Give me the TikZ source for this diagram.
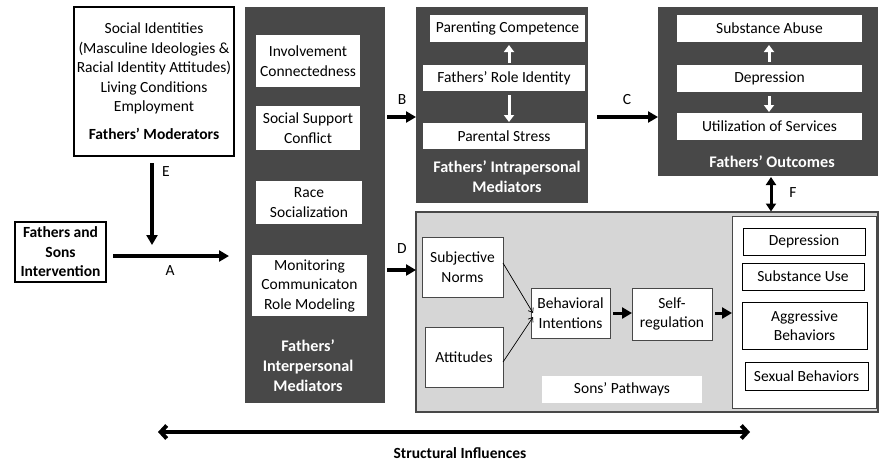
\documentclass[tikz,border=0pt]{standalone}
\usepackage{fontspec}
\setmainfont{Carlito}
\usetikzlibrary{arrows.meta,calc}
\definecolor{darkbox}{HTML}{484848}
\definecolor{sonsgray}{HTML}{D6D6D6}
\begin{document}
\begin{tikzpicture}[x=1pt,y=-1pt,
  every node/.style={inner sep=0pt, outer sep=0pt, align=center, font=\fontsize{15.5}{19.5}\selectfont},
  wbox/.style={draw=black, line width=1.2pt, fill=white},
  wnb/.style={fill=white},
  dark/.style={fill=darkbox},
  gbox/.style={draw=darkbox, line width=1.2pt, fill=sonsgray},
  dlabel/.style={text=white, font=\fontsize{16.2}{20}\selectfont\bfseries},
  arr/.style={line width=3.5pt, -{Triangle[length=10pt,width=11pt]}},
  darr/.style={line width=3pt, {Triangle[length=8pt,width=10pt]}-{Triangle[length=8pt,width=10pt]}},
  warr/.style={white, line width=3pt, -{Triangle[length=7pt,width=10pt]}},
  thin/.style={line width=0.7pt, -{Straight Barb[length=4pt,width=6pt]}},
  sarr/.style={line width=4pt, {Straight Barb[length=6pt,width=13pt]}-{Straight Barb[length=6pt,width=13pt]}},
  lab/.style={font=\fontsize{15.5}{19.5}\selectfont}
]
\useasboundingbox (0,0) rectangle (880,461);
\fill[white] (0,0) rectangle (880,461);

% Moderators
\node[wbox, minimum width=160, minimum height=149] (mod) at (154,81.5)
  {Social Identities\\(Masculine Ideologies \&\\Racial Identity Attitudes)\\Living Conditions\\Employment\\[8.5pt]\textbf{Fathers’ Moderators}};

% Intervention
\node[wbox, minimum width=91, minimum height=60, font=\fontsize{15.5}{19.5}\selectfont\bfseries] (fs) at (60.5,252)
  {Fathers and\\Sons\\Intervention};

% Interpersonal mediators
\node[dark, minimum width=140, minimum height=396] (inter) at (315,205) {};
\node[wnb, minimum width=104, minimum height=52] (inv) at (308,61) {Involvement\\Connectedness};
\node[wnb, minimum width=104, minimum height=44] (ssc) at (308,128) {Social Support\\Conflict};
\node[wnb, minimum width=106, minimum height=43] (race) at (309,202.5) {Race\\Socialization};
\node[wnb, minimum width=115, minimum height=61] (mon) at (309.5,285.5) {Monitoring\\Communicaton\\Role Modeling};
\node[dlabel] (interlab) at (308,366) {Fathers’\\Interpersonal\\Mediators};

% Intrapersonal mediators
\node[dark, minimum width=172, minimum height=196] (intra) at (502,105) {};
\node[wnb, minimum width=155, minimum height=27] (pc) at (507.5,28.5) {Parenting Competence};
\node[wnb, minimum width=162, minimum height=26] (fri) at (504,78) {Fathers’ Role Identity};
\node[wnb, minimum width=162, minimum height=26] (ps) at (504,136) {Parental Stress};
\node[dlabel] (intralab) at (507,177) {Fathers’ Intrapersonal\\Mediators};

% Fathers' outcomes
\node[dark, minimum width=220, minimum height=169] (out) at (768,91.5) {};
\node[wnb, minimum width=185, minimum height=27] (sa) at (769.5,28.5) {Substance Abuse};
\node[wnb, minimum width=185, minimum height=27] (dep) at (769.5,78.5) {Depression};
\node[wnb, minimum width=185, minimum height=27] (uos) at (769.5,126.5) {Utilization of Services};
\node[dlabel] (outlab) at (772,162) {Fathers’ Outcomes};

% Sons' pathways
\node[gbox, minimum width=462, minimum height=200] (sons) at (647,312) {};
\node[wbox, line width=1pt, draw=darkbox, minimum width=81, minimum height=60] (sn) at (462.5,267) {Subjective\\Norms};
\node[wbox, line width=1pt, draw=darkbox, minimum width=78, minimum height=60] (att) at (464,357) {Attitudes};
\node[wbox, line width=1pt, draw=darkbox, minimum width=79, minimum height=50] (bi) at (570.5,313) {Behavioral\\Intentions};
\node[wbox, line width=1pt, draw=darkbox, minimum width=80, minimum height=52] (sr) at (672,314) {Self-\\regulation};
\node[wnb, minimum width=160, minimum height=27] (sp) at (622,389.5) {Sons’ Pathways};
\node[wbox, line width=1pt, draw=darkbox, minimum width=144, minimum height=192] (so) at (804,312) {};
\node[wbox, line width=1pt, minimum width=122, minimum height=27] (sdep) at (804,241.5) {Depression};
\node[wbox, line width=1pt, minimum width=122, minimum height=27] (ssu) at (803,276.5) {Substance Use};
\node[wbox, line width=1pt, minimum width=125, minimum height=47] (agg) at (804.5,325.5) {Aggressive\\Behaviors};
\node[wbox, line width=1pt, minimum width=123, minimum height=28] (sex) at (806.5,376) {Sexual Behaviors};

% Connectors
\coordinate (eS) at (152,163);
\coordinate (eE) at (152,245);
\draw[arr] (eS) -- (eE);
\node[lab] (elab) at (166,172) {E};

\coordinate (aS) at (113,256);
\coordinate (aE) at (229,256);
\draw[arr] (aS) -- (aE);
\node[lab] (alab) at (170,271) {A};

\draw[arr, shorten <=2pt] ([yshift=88pt]inter.east) -- ([yshift=-12pt]intra.west);
\node[lab] (blab) at (402,100) {B};

\draw[arr, shorten <=9pt] ([yshift=-12pt]intra.east) -- ([yshift=-25.5pt]out.west);
\node[lab] (clab) at (627,100) {C};

\draw[arr, shorten <=2pt] ([yshift=-65pt]inter.east) -- ([yshift=42pt]sons.west);
\node[lab] (dlab) at (402,249) {D};

\draw[darr, shorten <=1pt, shorten >=0.5pt] ([xshift=3pt]out.south) -- ([xshift=3pt]out.south |- sons.north);
\node[lab] (flab) at (793,193) {F};

\draw[warr, shorten <=2pt, shorten >=3pt] ([xshift=5pt]fri.north) -- ([xshift=5pt]fri.north |- pc.south);
\draw[warr, shorten <=4pt, shorten >=1pt] ([xshift=5pt]fri.south) -- ([xshift=5pt]fri.south |- ps.north);
\draw[warr, shorten <=3pt, shorten >=3pt] ([xshift=-0.5pt]dep.north) -- ([xshift=-0.5pt]dep.north |- sa.south);
\draw[warr, shorten <=4pt, shorten >=1pt] ([xshift=-0.5pt]dep.south) -- ([xshift=-0.5pt]dep.south |- uos.north);

\draw[thin] ([yshift=4pt]sn.east) -- ([xshift=2pt,yshift=0pt]bi.west);
\draw[thin] ([yshift=-5pt]att.east) -- ([xshift=2pt,yshift=-4pt]bi.west);
\draw[arr, line width=3pt, shorten <=3pt] (bi.east) -- (sr.west |- bi.east);
\draw[arr, line width=3pt, shorten <=3pt] (sr.east |- bi.east) -- (so.west |- bi.east);

\coordinate (sL) at (158,432);
\coordinate (sR) at (750,432);
\draw[sarr] (sL) -- (sR);
\node[font=\fontsize{15.5}{18}\selectfont\bfseries] (slab) at (460,453) {Structural Influences};
\end{tikzpicture}
\end{document}
